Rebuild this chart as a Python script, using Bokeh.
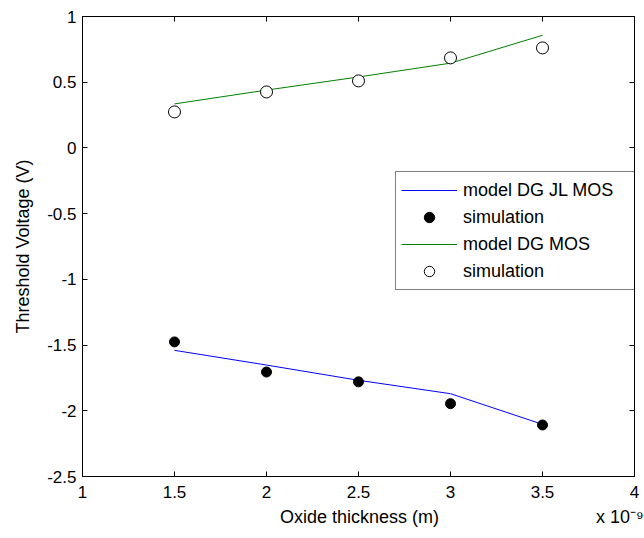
from bokeh.plotting import figure
from bokeh.models import LinearAxis, Legend, LegendItem, FixedTicker, Range1d
from bokeh.embed import file_html
from bokeh.resources import INLINE

thickness = [1.5, 2.0, 2.5, 3.0, 3.5]  # x 1e-9 m
model_jl = [-1.54, -1.652, -1.768, -1.87, -2.103]
sim_jl = [-1.476, -1.705, -1.78, -1.946, -2.108]
model_dg = [0.335, 0.44, 0.54, 0.645, 0.857]
sim_dg = [0.274, 0.426, 0.51, 0.685, 0.761]
x_ticks = [1, 1.5, 2, 2.5, 3, 3.5, 4]
x_tick_labels = ["1", "1.5", "2", "2.5", "3", "3.5", "4"]
y_ticks = [-2.5, -2, -1.5, -1, -0.5, 0, 0.5, 1]
y_tick_labels = ["-2.5", "-2", "-1.5", "-1", "-0.5", "0", "0.5", "1"]
x_title = "Oxide thickness (m)"
x_exponent = "x 10\u207b\u2079"
y_title = "Threshold Voltage (V)"

FONT = "Liberation Sans"

p = figure(width=644, height=538, output_backend="svg", toolbar_location=None,
           x_range=Range1d(1, 4), y_range=Range1d(-2.5, 1),
           min_border_left=82, min_border_right=10, min_border_top=16, min_border_bottom=62)
p.xgrid.visible = False
p.ygrid.visible = False
p.outline_line_color = "black"
p.outline_line_width = 1
p.background_fill_color = "white"
p.border_fill_color = "white"

def style(ax, ticks, labels):
    ax.ticker = FixedTicker(ticks=ticks)
    ax.major_tick_in = 5
    ax.major_tick_out = 0
    ax.minor_tick_line_color = None
    ax.axis_line_color = "black"
    ax.major_tick_line_color = "black"
    ax.major_label_text_font = FONT
    ax.major_label_text_font_size = "17px"
    ax.major_label_text_color = "black"
    ax.axis_label_text_font = FONT
    ax.axis_label_text_font_size = "18px"
    ax.axis_label_text_font_style = "normal"
    ax.axis_label_text_color = "black"
    ax.major_label_overrides = {t: l for t, l in zip(ticks, labels)}

style(p.xaxis[0], x_ticks, x_tick_labels)
style(p.yaxis[0], y_ticks, y_tick_labels)
p.xaxis[0].major_label_standoff = 9
p.yaxis[0].axis_label = y_title
p.yaxis[0].major_label_standoff = 6
p.yaxis[0].axis_label_standoff = 11

# second row below the x axis: axis title centred under the axis, exponent at the right
title_pos = [2.505, 3.92]
title_axis = LinearAxis()
style(title_axis, title_pos, [x_title, x_exponent])
title_axis.axis_line_color = "white"
title_axis.major_tick_line_color = "white"
title_axis.major_tick_in = 0
title_axis.major_label_text_font_size = "18px"
title_axis.major_label_standoff = 6
p.add_layout(title_axis, "below")

top = LinearAxis()
style(top, x_ticks, [""] * len(x_ticks))
top.major_label_standoff = 0
p.add_layout(top, "above")
right = LinearAxis()
style(right, y_ticks, [""] * len(y_ticks))
right.major_label_standoff = 0
p.add_layout(right, "right")

l1 = p.line(thickness, model_jl, line_color="#0000ff", line_width=1)
s1 = p.scatter(thickness, sim_jl, marker="circle", size=10, fill_color="black", line_color="black")
l2 = p.line(thickness, model_dg, line_color="#008000", line_width=1)
s2 = p.scatter(thickness, sim_dg, marker="circle", size=12, fill_color="white", line_color="black", line_width=1)

legend = Legend(items=[
    LegendItem(label="model DG JL MOS", renderers=[l1]),
    LegendItem(label="simulation", renderers=[s1]),
    LegendItem(label="model DG MOS", renderers=[l2]),
    LegendItem(label="simulation", renderers=[s2]),
], location=(313, 186))
legend.label_text_font = FONT
legend.label_text_font_size = "18px"
legend.label_text_color = "black"
legend.border_line_color = "black"
legend.border_line_width = 1
legend.background_fill_alpha = 1
legend.glyph_width = 56
legend.glyph_height = 26
legend.label_height = 26
legend.label_width = 184
legend.spacing = 1
legend.padding = 5
legend.margin = 0
legend.label_standoff = 6
p.add_layout(legend, "center")

open("out.html", "w").write(file_html(p, INLINE))
